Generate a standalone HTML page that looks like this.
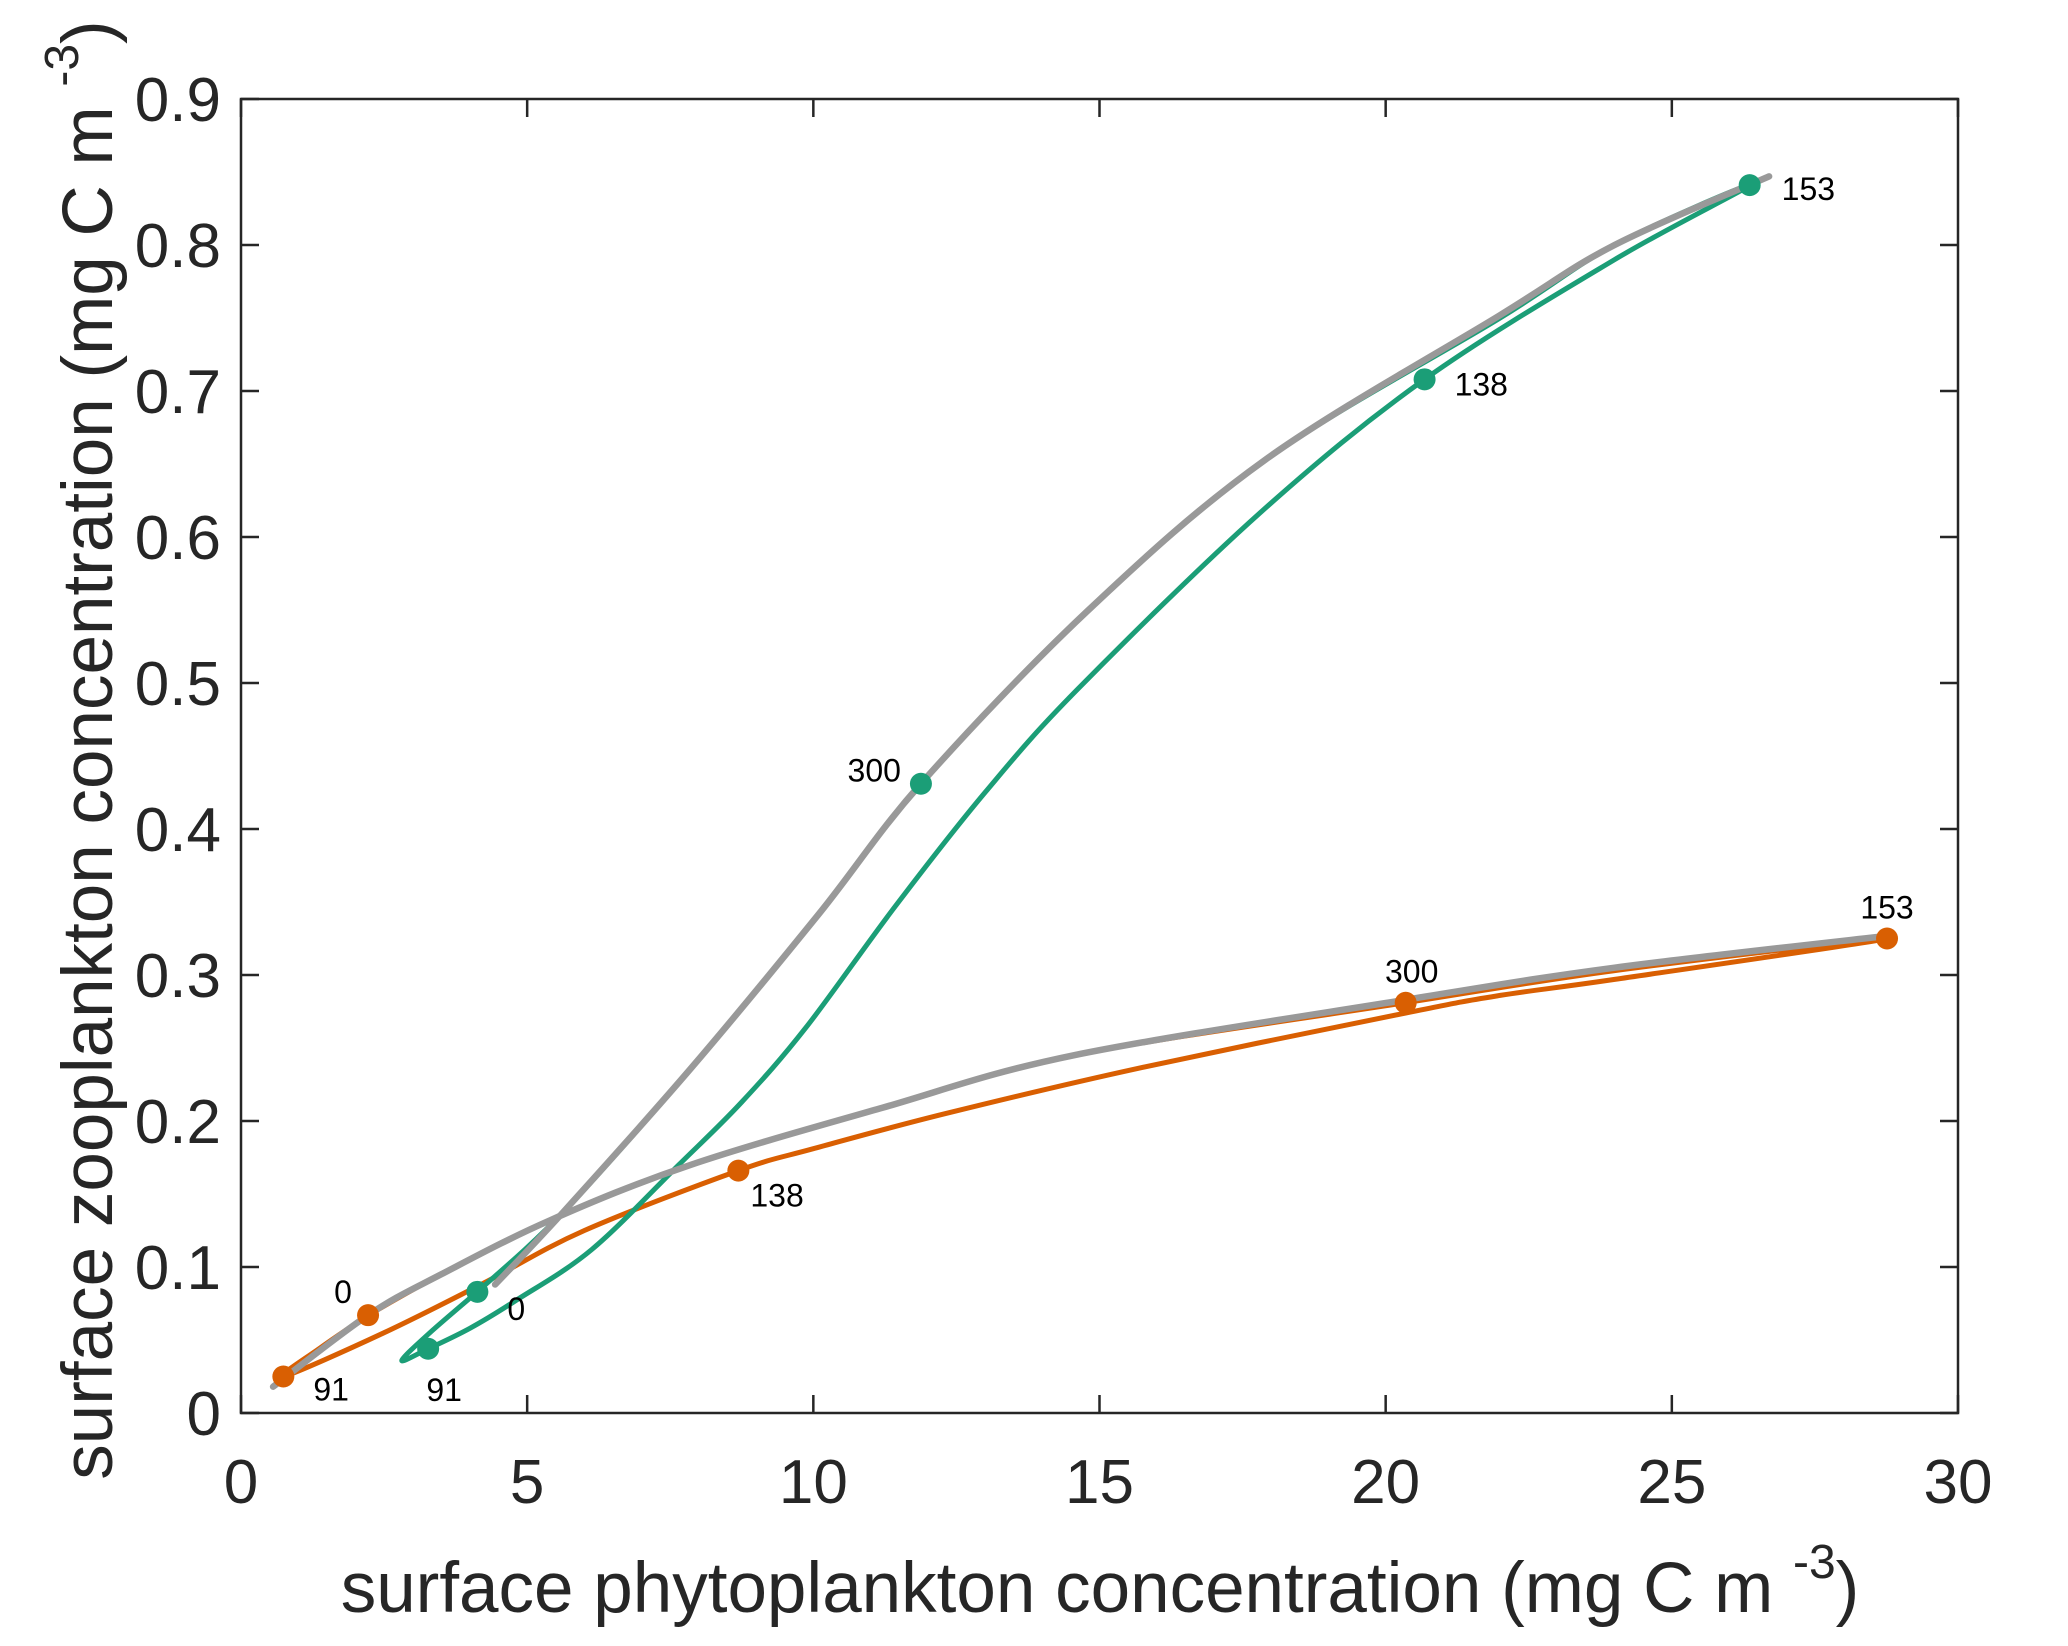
<!DOCTYPE html>
<html><head><meta charset="utf-8"><style>
html,body{margin:0;padding:0;background:#fff;}
svg{display:block;font-family:"Liberation Sans",Arial,sans-serif;}
</style></head><body>
<svg id="chart" width="2068" height="1646" viewBox="0 0 2068 1646" xmlns="http://www.w3.org/2000/svg">
<g id="plot"></g>
</svg>
<script>
const xTicks=[0,5,10,15,20,25,30];
const yTicks=[0,0.1,0.2,0.3,0.4,0.5,0.6,0.7,0.8,0.9];
const yTickLabels=["0","0.1","0.2","0.3","0.4","0.5","0.6","0.7","0.8","0.9"];
const greyGreenX=[4.44,5.64,7.86,10.1,11.88,14.78,17.9,22,24,26.7];
const greyGreenY=[0.088,0.138,0.236,0.342,0.431,0.549,0.653,0.752,0.80,0.847];
const greyOrangeX=[0.56,2.22,3.5,5.4,7.86,11.2,14.55,20.35,24,28.8];
const greyOrangeY=[0.018,0.067,0.095,0.132,0.17,0.209,0.245,0.283,0.305,0.327];
const greenX=[4.13,3.3,2.81,3.27,4.0,4.8,6.13,7.65,8.75,9.87,11.43,13.0,14.6,17.79,20.68,24,26.36,24,22,17.9,14.78,11.88,10.1,7.86,5.64,4.13];
const greenY=[0.083,0.055,0.036,0.044,0.058,0.077,0.112,0.17,0.213,0.264,0.347,0.425,0.495,0.616,0.708,0.79,0.841,0.80,0.75,0.653,0.549,0.431,0.342,0.236,0.138,0.083];
const orangeX=[2.22,1.4,0.74,2.5,4.24,6,8.69,10,12.3,15.67,20.35,22,24,28.76,24,20.35,14.55,11.2,7.86,5.4,3.5,2.22];
const orangeY=[0.067,0.045,0.025,0.055,0.089,0.125,0.166,0.181,0.205,0.236,0.274,0.286,0.297,0.325,0.303,0.281,0.245,0.209,0.17,0.132,0.095,0.067];
const greenPtsX=[4.13,3.27,20.68,26.36,11.88];
const greenPtsY=[0.083,0.044,0.708,0.841,0.431];
const orangePtsX=[2.22,0.74,8.69,28.76,20.35];
const orangePtsY=[0.067,0.025,0.166,0.325,0.281];
const ptLabels=["0","91","138","153","300"];

const L=241,R=1958,T=99,B=1413;
const xs=v=>L+(v-0)/30*(R-L);
const ys=v=>B-(v-0)/0.9*(B-T);
const NS="http://www.w3.org/2000/svg";
const g=document.getElementById('plot');
function mk(tag,attrs){const e=document.createElementNS(NS,tag);for(const k in attrs)e.setAttribute(k,attrs[k]);g.appendChild(e);return e;}
function pathD(X,Y){
  const p=X.map((x,i)=>[xs(x),ys(Y[i])]);
  let d="M"+p[0][0].toFixed(1)+","+p[0][1].toFixed(1);
  for(let i=0;i<p.length-1;i++){
    const p0=p[Math.max(0,i-1)],p1=p[i],p2=p[i+1],p3=p[Math.min(p.length-1,i+2)];
    const c1=[p1[0]+(p2[0]-p0[0])/6,p1[1]+(p2[1]-p0[1])/6];
    const c2=[p2[0]-(p3[0]-p1[0])/6,p2[1]-(p3[1]-p1[1])/6];
    d+="C"+c1[0].toFixed(1)+","+c1[1].toFixed(1)+" "+c2[0].toFixed(1)+","+c2[1].toFixed(1)+" "+p2[0].toFixed(1)+","+p2[1].toFixed(1);
  }
  return d;
}
let fr=mk('rect',{x:L,y:T,width:R-L,height:B-T,fill:'none',stroke:'#262626','stroke-width':2.5});


xTicks.forEach((t,i)=>{
  const x=xs(t);
  let a=mk('line',{x1:x,y1:B,x2:x,y2:B-18,stroke:'#262626','stroke-width':2.5});
  
  
  let b=mk('line',{x1:x,y1:T,x2:x,y2:T+18,stroke:'#262626','stroke-width':2.5});
  
  
  let tx=mk('text',{x:x,y:B+90,'text-anchor':'middle','font-size':62,fill:'#262626'});
  tx.textContent=String(t);
  
  
});
yTicks.forEach((t,i)=>{
  const y=ys(t);
  let a=mk('line',{x1:L,y1:y,x2:L+18,y2:y,stroke:'#262626','stroke-width':2.5});
  
  
  let b=mk('line',{x1:R,y1:y,x2:R-18,y2:y,stroke:'#262626','stroke-width':2.5});
  
  
  let tx=mk('text',{x:L-20,y:y+22,'text-anchor':'end','font-size':62,fill:'#262626'});
  tx.textContent=yTickLabels[i];
  
  
});
let s1=mk('path',{d:pathD(orangeX,orangeY),fill:'none',stroke:'#d95f02','stroke-width':5,'stroke-linejoin':'round'});


let s2=mk('path',{d:pathD(greenX,greenY),fill:'none',stroke:'#1b9e77','stroke-width':5,'stroke-linejoin':'round'});


let s3=mk('path',{d:pathD(greyOrangeX,greyOrangeY),fill:'none',stroke:'#999999','stroke-width':6.5,'stroke-linecap':'round'});


let s4=mk('path',{d:pathD(greyGreenX,greyGreenY),fill:'none',stroke:'#999999','stroke-width':6.5,'stroke-linecap':'round'});


const gOff=[[30,28,'start'],[16,52,'middle'],[30,16,'start'],[32,15,'start'],[-20,-2,'end']];
const oOff=[[-25,-12,'middle'],[30,24,'start'],[12,36,'start'],[0,-20,'middle'],[6,-20,'middle']];
function pts(X,Y,col,off,name){
  X.forEach((x,i)=>{
    const cx=xs(x),cy=ys(Y[i]);
    let c=mk('circle',{cx:cx,cy:cy,r:11,fill:col});
    
    
    let t=mk('text',{x:cx+off[i][0],y:cy+off[i][1],'text-anchor':off[i][2],'font-size':32,fill:'#000'});
    t.textContent=ptLabels[i];
    
    
  });
}
pts(orangePtsX,orangePtsY,'#d95f02',oOff,'orange');
pts(greenPtsX,greenPtsY,'#1b9e77',gOff,'green');
let xl=mk('text',{x:1100,y:1612,'text-anchor':'middle','font-size':71,fill:'#262626'});
xl.innerHTML='surface phytoplankton concentration (mg C m <tspan dy="-34" font-size="48">-3</tspan><tspan dy="34">)</tspan>';


let yl=mk('text',{x:0,y:0,'text-anchor':'middle','font-size':71,fill:'#262626',transform:'translate(112,750) rotate(-90)'});
yl.innerHTML='surface zooplankton concentration (mg C m <tspan dy="-34" font-size="48">-3</tspan><tspan dy="34">)</tspan>';


</script>
</body></html>
